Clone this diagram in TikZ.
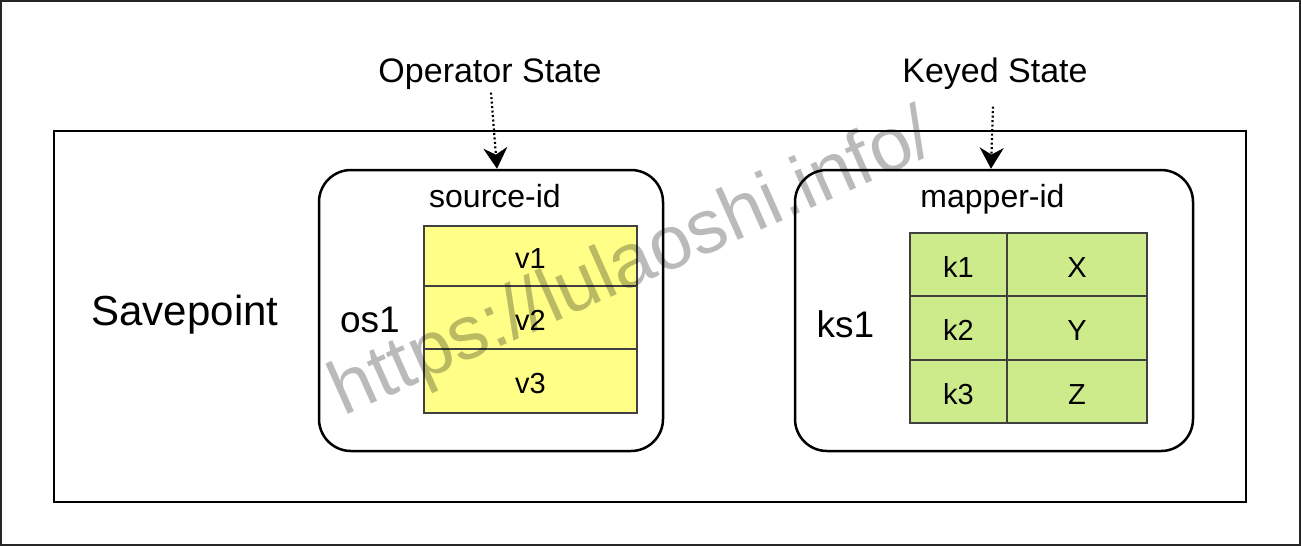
\documentclass[tikz,border=0pt]{standalone}
\usepackage{fontspec}
\setsansfont{Liberation Sans}
\usetikzlibrary{arrows.meta}

\begin{document}
\begin{tikzpicture}[
    x=1pt, y=-1pt,
    every node/.style={font=\sffamily},
    title/.style={font=\sffamily\fontsize{34}{40}\selectfont, anchor=base},
    idlabel/.style={font=\sffamily\fontsize{32}{38}\selectfont, anchor=base},
    statelabel/.style={font=\sffamily\fontsize{37}{44}\selectfont, anchor=base},
    statebox/.style={draw, line width=2.5pt, rounded corners=32pt, inner sep=0pt, minimum height=281pt},
    cell/.style={draw=black!75, line width=2pt, inner sep=0pt, text height=25pt, text depth=0pt,
                 font=\sffamily\fontsize{29}{34}\selectfont},
    vcell/.style={cell, fill=yellowcell, minimum width=213pt},
    kcell/.style={cell, fill=greencell, minimum width=97pt},
    xcell/.style={cell, fill=greencell, minimum width=140pt},
    dotarrow/.style={line width=2.2pt, dash pattern=on 2pt off 2.5pt,
                     -{Stealth[length=21pt, width=24pt]}},
]
    \definecolor{yellowcell}{HTML}{FFFF88}
    \definecolor{greencell}{HTML}{CDEB8B}

    \useasboundingbox (0,0) rectangle (1301,546);
    \draw[line width=2pt, black!85] (1,1) rectangle (1299.5,544.5);

    % savepoint frame
    \node[draw, line width=2.5pt, minimum width=1192pt, minimum height=371pt] (frame) at (650,316.5) {};
    \node[font=\sffamily\fontsize{42}{50}\selectfont, anchor=base] (sp) at (185,325) {Savepoint};

    \node[title] (opstate) at (490,82) {Operator State};
    \node[title] (keyed) at (995,82) {Keyed State};

    % operator state
    \node[statebox, minimum width=344pt] (osbox) at (491,310.5) {};
    \node[idlabel] (srcid) at (495,207) {source-id};
    \node[statelabel] (os1) at (370,332) {os1};
    \node[vcell, minimum height=60pt] (v1) at (530.5,256) {v1};
    \node[vcell, minimum height=63pt] (v2) at (530.5,317.5) {v2};
    \node[vcell, minimum height=64pt] (v3) at (530.5,381) {v3};

    % keyed state
    \node[statebox, minimum width=398pt] (ksbox) at (994,310.5) {};
    \node[idlabel] (mapid) at (992.5,207) {mapper-id};
    \node[statelabel] (ks1) at (845.5,337) {ks1};
    \node[kcell, minimum height=63pt] (k1) at (958.5,264.5) {k1};
    \node[kcell, minimum height=64pt] (k2) at (958.5,328) {k2};
    \node[kcell, minimum height=63pt] (k3) at (958.5,391.5) {k3};
    \node[xcell, minimum height=63pt] (x) at (1077,264.5) {X};
    \node[xcell, minimum height=64pt] (y) at (1077,328) {Y};
    \node[xcell, minimum height=63pt] (z) at (1077,391.5) {Z};

    \draw[dotarrow] ([xshift=1pt]opstate.south) -- ([xshift=6pt]osbox.north);
    \draw[dotarrow] ([xshift=-2pt, yshift=-14pt]keyed.south) -- ([xshift=-3pt]ksbox.north);

    % watermark
    \node[font=\sffamily\fontsize{76}{90}\selectfont, text=black, text opacity=0.27,
          rotate=24, anchor=base] (wm) at (641,284) {https://lulaoshi.info/};

\end{tikzpicture}
\end{document}
